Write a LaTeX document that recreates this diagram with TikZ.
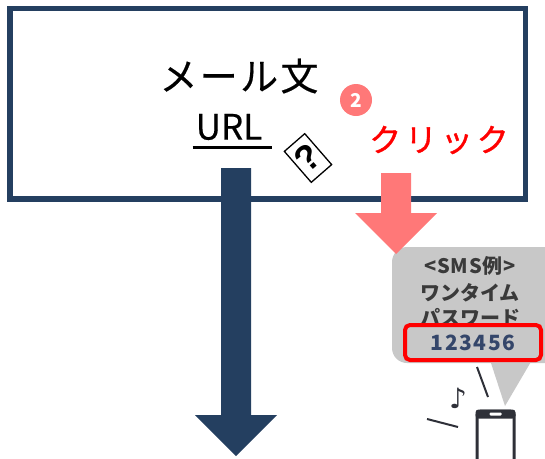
\documentclass[tikz,border=0pt]{standalone}
\usepackage{fontspec}
\setmainfont{Noto Sans CJK JP}
\newfontfamily\jpheavy[FakeBold=1.2]{Noto Sans CJK JP}
\newfontfamily\jpsemi[FakeBold=0.4]{Noto Sans CJK JP}
\newfontfamily\symfont{DejaVu Sans}
\newfontfamily\qfont{Liberation Sans Bold}
\usetikzlibrary{calc}

\definecolor{navy}{HTML}{243F60}
\definecolor{salmon}{HTML}{FF7878}
\definecolor{bubblegray}{HTML}{C8C8C8}
\definecolor{smstext}{HTML}{3A3A3A}
\definecolor{otptext}{HTML}{34466A}
\definecolor{phonec}{HTML}{2E3038}

\tikzset{
  bubbletext/.style={text=smstext, font=\fontsize{20}{20}\selectfont\bfseries, inner sep=0},
}

\begin{document}
\begin{tikzpicture}[x=1pt,y=-1pt]
\useasboundingbox (0,0) rectangle (545,458);
\begin{scope}
\clip (0,0) rectangle (545,458);

% mail frame
\node[draw=navy, line width=5.5pt, minimum width=515.5pt, minimum height=190.5pt,
      inner sep=0, anchor=north west] (mail) at (7,5.5) {};

\node[inner sep=0, font=\jpsemi\fontsize{38}{38}\selectfont] (title) at (239,76)
  {\addfontfeature{LetterSpace=6}メール文};
\node[inner sep=0, font=\jpsemi\fontsize{35}{35}\selectfont] (url) at (229,127) {URL};
\draw[line width=2.5pt] ($(url.base west)+(-3,8)$) coordinate (ulA)
  -- ($(url.base east)+(10,8)$) coordinate (ulB);

% question card
\node[draw, line width=1.3pt, fill=white, minimum width=27pt, minimum height=41pt,
      inner sep=0, rotate=41, font=\qfont\fontsize{36}{36}\selectfont] (card) at (308,158)
  {?};

% step number and label
\node[circle, fill=salmon, minimum size=32pt, inner sep=0, text=white,
      font=\fontsize{19}{19}\selectfont\bfseries] (num) at (356,100) {2};
\node[text=red, inner sep=0, font=\jpheavy\fontsize{32}{32}\selectfont] (click) at (439,140)
  {\addfontfeature{LetterSpace=12}クリック};

% SMS balloon
\fill[bubblegray, rounded corners=15pt] (392,247) rectangle (570,363);
\coordinate (tailL) at (490,360);
\coordinate (tailR) at (532,360);
\coordinate (tailT) at (505,406);
\fill[bubblegray] (tailL) -- (tailR) -- (tailT) -- cycle;

\node[bubbletext] (sms) at (470,266) {\addfontfeature{LetterSpace=4}<SMS例>};
\node[bubbletext] (one) at (470,293) {ワンタイム};
\node[bubbletext] (pw) at (470,318) {パスワード};
\node[draw=red, line width=4pt, fill=bubblegray, rounded corners=5pt,
      minimum width=136pt, minimum height=35pt, inner sep=0,
      text=otptext, font=\fontsize{21}{21}\selectfont\bfseries] (otp) at (473,342.5)
  {\addfontfeature{LetterSpace=7}123456};

% phone
\node[draw=phonec, line width=3pt, rounded corners=4pt, minimum width=37pt,
      minimum height=80pt, inner sep=0, anchor=north] (phone) at (495.5,409.5) {};
\fill[phonec, rounded corners=3pt] (phone.north west) rectangle ($(phone.north east)+(0,9)$);
\fill[white, rounded corners=1pt] ($(phone.north)+(-6,3)$) rectangle ($(phone.north)+(6,6)$);

\coordinate (w1a) at (477,367);
\coordinate (w1b) at (488,397);
\coordinate (w2a) at (427,419);
\coordinate (w2b) at (458,427);
\draw[phonec, line width=2pt] (w1a) -- (w1b);
\draw[phonec, line width=2pt] (w2a) -- (w2b);
\node[text=phonec, inner sep=0, font=\symfont\fontsize{28}{28}\selectfont] (note) at (458,398) {♪};

% down arrows
\coordinate (a1) at (236,168);
\fill[navy] ($(a1)+(-15,0)$) -- ($(a1)+(15,0)$) -- ($(a1)+(15,247)$) -- ($(a1)+(41,247)$)
  -- ($(a1)+(0,288)$) -- ($(a1)+(-41,247)$) -- ($(a1)+(-15,247)$) -- cycle;
\coordinate (a2) at (396,173);
\fill[salmon] ($(a2)+(-15,0)$) -- ($(a2)+(15,0)$) -- ($(a2)+(15,40)$) -- ($(a2)+(41,40)$)
  -- ($(a2)+(0,81)$) -- ($(a2)+(-41,40)$) -- ($(a2)+(-15,40)$) -- cycle;
\end{scope}
\end{tikzpicture}
\end{document}
